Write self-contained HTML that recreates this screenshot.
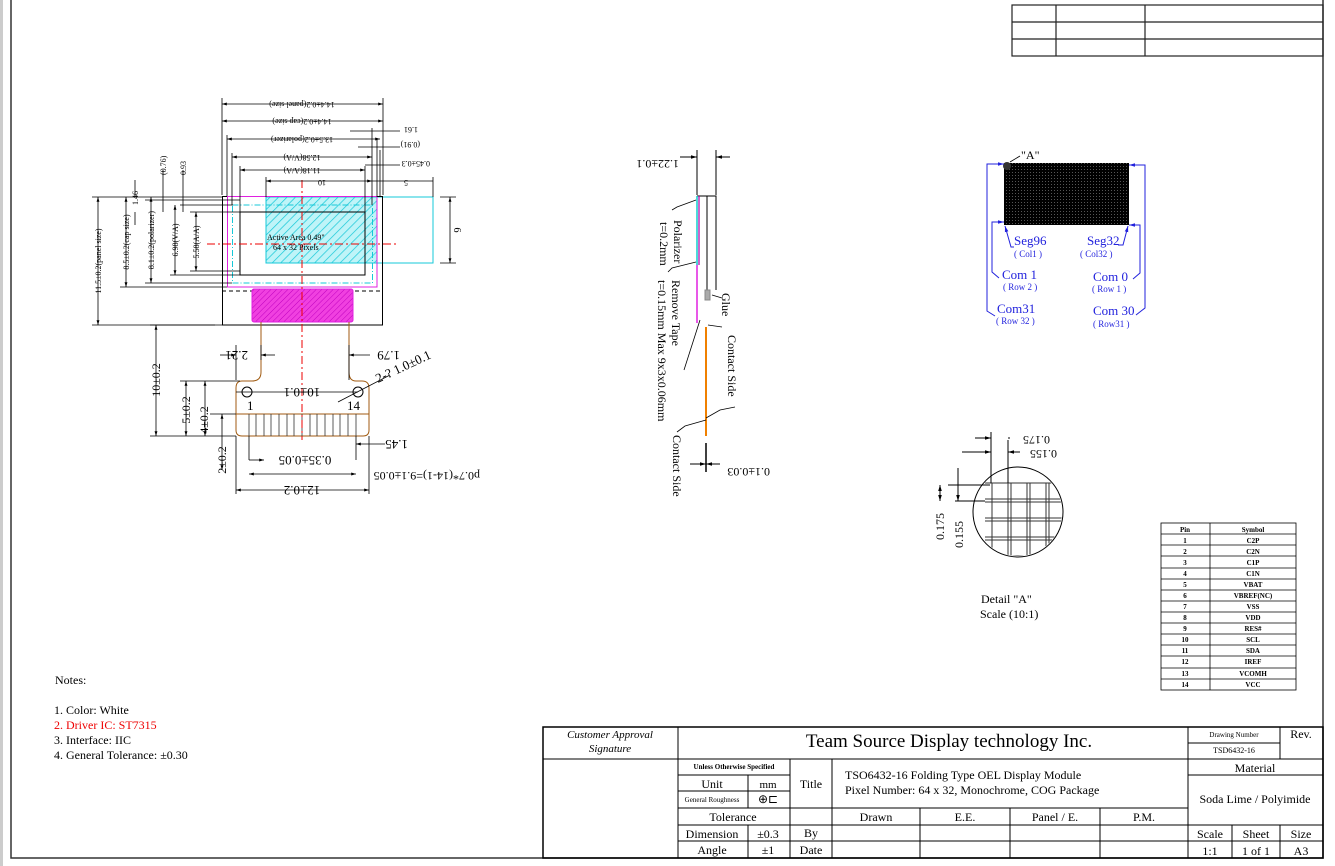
<!DOCTYPE html>
<html><head><meta charset="utf-8"><style>
html,body{margin:0;padding:0;background:#fff}
svg{display:block}
text{font-family:"Liberation Serif",serif;fill:#000}
</style></head><body>
<svg width="1335" height="866" viewBox="0 0 1335 866" xmlns="http://www.w3.org/2000/svg">
<defs>
<pattern id="hc" width="6" height="6" patternUnits="userSpaceOnUse" patternTransform="rotate(45)"><rect width="6" height="6" fill="#bff4f8"/><line x1="0" y1="0" x2="0" y2="6" stroke="#16c8d8" stroke-width="1.4"/></pattern>
<pattern id="hm" width="4" height="4" patternUnits="userSpaceOnUse" patternTransform="rotate(45)"><rect width="4" height="4" fill="#f040e0"/><line x1="0" y1="0" x2="0" y2="4" stroke="#c000c0" stroke-width="1"/></pattern>
<pattern id="px" width="3" height="3" patternUnits="userSpaceOnUse"><rect width="3" height="3" fill="#000"/><rect x="1" y="1" width="1" height="1" fill="#555"/></pattern>
<marker id="a" viewBox="0 0 10 10" refX="10" refY="5" markerWidth="6" markerHeight="6" orient="auto-start-reverse"><path d="M0,2 L10,5 L0,8z" fill="#000"/></marker>
<marker id="b" viewBox="0 0 10 10" refX="10" refY="5" markerWidth="6" markerHeight="6" orient="auto-start-reverse"><path d="M0,2 L10,5 L0,8z" fill="#22d"/></marker>
</defs>
<rect x="0" y="0" width="3" height="866" fill="#ccc"/>
<g fill="none" stroke="#333" stroke-width="1.5">
<path d="M11,0 V858 H1323 V0"/>
</g>
<!-- top right table -->
<g stroke="#222" stroke-width="1.2" fill="none">
<rect x="1012" y="5" width="311" height="51"/>
<line x1="1012" y1="22" x2="1323" y2="22"/><line x1="1012" y1="39" x2="1323" y2="39"/>
<line x1="1056" y1="5" x2="1056" y2="56"/><line x1="1145" y1="5" x2="1145" y2="56"/>
</g>

<!-- MAIN FRONT VIEW -->
<g fill="none" stroke-width="1">
<rect x="266" y="197" width="111" height="66" fill="url(#hc)" stroke="#16c8d8"/>
<rect x="377" y="197" width="56" height="66" stroke="#16c8d8"/>
<rect x="222.5" y="196.5" width="160" height="128.5" stroke="#000"/>
<rect x="227.5" y="196.5" width="149.5" height="90.5" stroke="#e020e0"/>
<rect x="232.5" y="205" width="140" height="78" stroke="#16c8d8" stroke-dasharray="6,2,1,2"/>
<rect x="240" y="212" width="125" height="63" stroke="#000"/>
<line x1="222" y1="291" x2="383" y2="291" stroke="#000" stroke-dasharray="4,3"/>
<rect x="252" y="289" width="101" height="33" rx="2" fill="url(#hm)" stroke="#e020e0"/>
<path d="M261,322 V372 Q261,381 252,381 H242 Q236,381 236,388 V430 Q236,436 242,436 H363 Q369,436 369,430 V388 Q369,381 362,381 H356 Q349,381 349,372 V322" stroke="#a05a10"/>
<line x1="236" y1="414" x2="369" y2="414" stroke="#a05a10"/>
<circle cx="247" cy="392" r="5" stroke="#000"/><circle cx="358" cy="392" r="5" stroke="#000"/>
<g stroke="#333" stroke-width="0.8">
<path d="M249,414 V436 M256,414 V436 M264,414 V436 M271,414 V436 M279,414 V436 M287,414 V436 M294,414 V436 M302,414 V436 M310,414 V436 M317,414 V436 M325,414 V436 M333,414 V436 M340,414 V436 M348,414 V436 M356,414 V436"/>
</g>
<line x1="302" y1="180" x2="302" y2="440" stroke="#e00" stroke-dasharray="8,3,2,3"/>
<line x1="207" y1="244" x2="398" y2="244" stroke="#e00" stroke-dasharray="8,3,2,3"/>
</g>
<g stroke="#000" stroke-width="0.8" fill="none">
<line x1="222" y1="104" x2="383" y2="104" marker-start="url(#a)" marker-end="url(#a)"/>
<line x1="222" y1="121" x2="383" y2="121" marker-start="url(#a)" marker-end="url(#a)"/>
<line x1="227" y1="139" x2="380" y2="139" marker-start="url(#a)" marker-end="url(#a)"/>
<line x1="232" y1="157" x2="372" y2="157" marker-start="url(#a)" marker-end="url(#a)"/>
<line x1="240" y1="170" x2="365" y2="170" marker-start="url(#a)" marker-end="url(#a)"/>
<line x1="266" y1="181" x2="372" y2="181" marker-start="url(#a)" marker-end="url(#a)"/>
<line x1="372" y1="181" x2="433" y2="181"/>
<path d="M222,98 V195 M383,98 V195 M227,135 V196 M232,153 V205 M240,166 V212 M266,177 V197 M372,128 V205 M377,140 V197 M380,150 V197 M433,177 V197 M365,166 V212"/>
<line x1="350" y1="131" x2="400" y2="131"/><line x1="358" y1="147" x2="400" y2="147"/><line x1="365" y1="165" x2="400" y2="165"/>
<path d="M440,197 H456 M440,263 H456"/><line x1="450" y1="197" x2="450" y2="263" marker-start="url(#a)" marker-end="url(#a)"/>
<path d="M92,197 H222 M92,325 H215 M120,287 H227 M145,283 H232 M170,275 H240 M190,271 H240 M180,205 H233 M190,212 H240 M145,200 H240"/>
<line x1="98" y1="197" x2="98" y2="325" marker-start="url(#a)" marker-end="url(#a)"/>
<line x1="126" y1="197" x2="126" y2="287" marker-start="url(#a)" marker-end="url(#a)"/>
<line x1="151" y1="197" x2="151" y2="283" marker-start="url(#a)" marker-end="url(#a)"/>
<line x1="175" y1="205" x2="175" y2="275" marker-start="url(#a)" marker-end="url(#a)"/>
<line x1="196" y1="212" x2="196" y2="271" marker-start="url(#a)" marker-end="url(#a)"/>
<path d="M135,180 V197 M135,212 V225 M163,170 V212 M183,170 V212"/>
<path d="M150,325 H222 M150,436 H236 M180,381 H240 M195,381 H240 M210,414 H236 M236,436 V494 M369,436 V494 M249,436 V460 M356,436 V460 M236,345 V380 M349,345 V380 M261,345 V360"/>
<line x1="156" y1="325" x2="156" y2="436" marker-start="url(#a)" marker-end="url(#a)"/>
<line x1="186" y1="381" x2="186" y2="436" marker-start="url(#a)" marker-end="url(#a)"/>
<line x1="205" y1="381" x2="205" y2="436" marker-start="url(#a)" marker-end="url(#a)"/>
<line x1="222" y1="414" x2="222" y2="470" marker-start="url(#a)" marker-end="url(#a)"/>
<line x1="236" y1="490" x2="369" y2="490" marker-start="url(#a)" marker-end="url(#a)"/>
<line x1="249" y1="474" x2="356" y2="474" marker-start="url(#a)" marker-end="url(#a)"/>
<line x1="249" y1="460" x2="264" y2="460" marker-end="url(#a)"/>
<line x1="236" y1="392" x2="358" y2="392"/>
<line x1="220" y1="355" x2="236" y2="355" marker-end="url(#a)"/><line x1="275" y1="355" x2="261" y2="355" marker-end="url(#a)"/>
<line x1="370" y1="355" x2="349" y2="355" marker-end="url(#a)"/>
<line x1="385" y1="444" x2="356" y2="444" marker-end="url(#a)"/>
<line x1="390" y1="375" x2="338" y2="402"/>
</g>
<g font-size="8">
<text transform="translate(302,102) rotate(180)" text-anchor="middle">14.4±0.2(panel size)</text>
<text transform="translate(302,119) rotate(180)" text-anchor="middle">14.4±0.2(cap size)</text>
<text transform="translate(302,137) rotate(180)" text-anchor="middle">13.5±0.2(polarizer)</text>
<text transform="translate(302,155) rotate(180)" text-anchor="middle">12.58(V/A)</text>
<text transform="translate(302,168) rotate(180)" text-anchor="middle">11.18(A/A)</text>
<text transform="translate(322,180) rotate(180)" text-anchor="middle">10</text>
<text transform="translate(406,180) rotate(180)" text-anchor="middle">5</text>
<text transform="translate(418,127) rotate(180)">1.61</text>
<text transform="translate(420,142) rotate(180)">(0.91)</text>
<text transform="translate(430,161) rotate(180)">0.45±0.3</text>
<text transform="translate(454,230) rotate(90)" text-anchor="middle" font-size="10">6</text>
<text transform="translate(101,261) rotate(-90)" text-anchor="middle">11.5±0.2(panel size)</text>
<text transform="translate(129,242) rotate(-90)" text-anchor="middle">8.5±0.2(cap size)</text>
<text transform="translate(154,240) rotate(-90)" text-anchor="middle">8.1±0.2(polarizer)</text>
<text transform="translate(178,240) rotate(-90)" text-anchor="middle">6.98(V/A)</text>
<text transform="translate(199,242) rotate(-90)" text-anchor="middle">5.58(A/A)</text>
<text transform="translate(138,205) rotate(-90)">1.46</text>
<text transform="translate(166,175) rotate(-90)">(0.76)</text>
<text transform="translate(186,175) rotate(-90)">0.93</text>
<text x="267" y="240" fill="#1aa">Active Area 0.49"</text>
<text x="273" y="250" fill="#1aa">64 x 32 Pixels</text>
</g>
<g font-size="12">
<text transform="translate(160,380) rotate(-90)" text-anchor="middle">10±0.2</text>
<text transform="translate(190,410) rotate(-90)" text-anchor="middle">5±0.2</text>
<text transform="translate(208,420) rotate(-90)" text-anchor="middle">4±0.2</text>
<text transform="translate(226,460) rotate(-90)" text-anchor="middle">2±0.2</text>
<text transform="translate(302,388) rotate(180)" text-anchor="middle" font-size="13">10±0.1</text>
<text transform="translate(302,486) rotate(180)" text-anchor="middle" font-size="13">12±0.2</text>
<text transform="translate(305,456) rotate(180)" text-anchor="middle" font-size="13">0.35±0.05</text>
<text transform="translate(480,472) rotate(180)">p0.7*(14-1)=9.1±0.05</text>
<text transform="translate(248,351) rotate(180)" font-size="13">2.21</text>
<text transform="translate(400,351) rotate(180)" font-size="13">1.79</text>
<text transform="translate(408,440) rotate(180)" font-size="13">1.45</text>
<text transform="translate(378,383) rotate(-25)" font-size="13">2-? 1.0±0.1</text>
<text x="247" y="410" font-size="13">1</text><text x="347" y="410" font-size="13">14</text>
</g>

<!-- SIDE VIEW -->
<g fill="none" stroke-width="1">
<path d="M697,150 V195 M716,150 V195" stroke="#000"/>
<line x1="680" y1="157" x2="697" y2="157" stroke="#000" marker-end="url(#a)"/>
<line x1="730" y1="157" x2="716" y2="157" stroke="#000" marker-end="url(#a)"/>
<path d="M697,196 H716 V290 M707,196 V290 M697,196 V290" stroke="#000"/>
<line x1="697" y1="196" x2="697" y2="265" stroke="#1cc" stroke-width="1.5"/>
<line x1="699" y1="196" x2="699" y2="265" stroke="#a0a" stroke-width="1.2"/>
<path d="M697,265 V323" stroke="#e020e0" stroke-width="1.5"/>
<rect x="705" y="290" width="5" height="10" fill="#aaa" stroke="#888"/>
<line x1="706" y1="327" x2="706" y2="436" stroke="#f08000" stroke-width="2"/>
<line x1="706" y1="443" x2="706" y2="472" stroke="#000" stroke-width="1.5"/>
<line x1="690" y1="464" x2="706" y2="464" stroke="#000" marker-end="url(#a)"/>
<line x1="720" y1="464" x2="706" y2="464" stroke="#000" marker-end="url(#a)"/>
<path d="M672,210 L677,207 L696,200 M668,272 L672,268 L696,262 M684,370 L700,320 M722,298 L712,295 M722,327 L708,325 M735,407 L720,410 L706,418 M677,432 L685,426 L706,420" stroke="#000" stroke-width="0.8"/>
</g>
<g font-size="12">
<text transform="translate(679,160) rotate(180)">1.22±0.1</text>
<text transform="translate(770,468) rotate(180)">0.1±0.03</text>
<text transform="translate(674,220) rotate(90)">Polarizer</text>
<text transform="translate(660,222) rotate(90)">t=0.2mm</text>
<text transform="translate(672,280) rotate(90)">Remove Tape</text>
<text transform="translate(658,280) rotate(90)">t=0.15mm Max 9x3x0.06mm</text>
<text transform="translate(722,293) rotate(90)">Glue</text>
<text transform="translate(728,335) rotate(90)">Contact Side</text>
<text transform="translate(673,435) rotate(90)">Contact Side</text>
</g>

<!-- PIXEL VIEW -->
<rect x="1004" y="163" width="125" height="62" fill="url(#px)"/>
<circle cx="1007" cy="166" r="4" fill="#333"/>
<path d="M1010,162 L1020,156" stroke="#000" stroke-width="0.8"/>
<text x="1021" y="159" font-size="12">"A"</text>
<g fill="none" stroke="#22d" stroke-width="1">
<path d="M1004,164 H987 V311 L995,316" marker-start="url(#b)"/>
<path d="M1004,222 H992 V272 L999,278" marker-start="url(#b)"/>
<path d="M1005,226 L1011,247 H1014" marker-start="url(#b)"/>
<path d="M1129,165 H1145 V308 L1136,315" marker-start="url(#b)"/>
<path d="M1129,225 H1140 V273 L1133,279" marker-start="url(#b)"/>
<path d="M1128,226 L1123,245 H1118" marker-start="url(#b)"/>
</g>
<g fill="#22d" font-size="13">
<text x="1014" y="245" style="fill:#22d">Seg96</text><text x="1014" y="257" font-size="9" style="fill:#22d">( Col1 )</text>
<text x="1087" y="245" style="fill:#22d">Seg32</text><text x="1080" y="257" font-size="9" style="fill:#22d">( Col32 )</text>
<text x="1002" y="279" style="fill:#22d">Com 1</text><text x="1003" y="290" font-size="9" style="fill:#22d">( Row 2 )</text>
<text x="1093" y="281" style="fill:#22d">Com 0</text><text x="1092" y="292" font-size="9" style="fill:#22d">( Row 1 )</text>
<text x="997" y="313" style="fill:#22d">Com31</text><text x="996" y="324" font-size="9" style="fill:#22d">( Row 32 )</text>
<text x="1093" y="315" style="fill:#22d">Com 30</text><text x="1093" y="327" font-size="9" style="fill:#22d">( Row31 )</text>
</g>

<!-- DETAIL A -->
<g fill="none" stroke="#000" stroke-width="1">
<circle cx="1018" cy="512" r="45"/>
<clipPath id="cc"><circle cx="1018" cy="512" r="44"/></clipPath>
<g clip-path="url(#cc)" stroke="#333">
<path d="M992,483 V560 M1008,483 V560 M1011,483 V560 M1027,483 V560 M1030,483 V560 M1046,483 V560 M1049,483 V560"/>
<path d="M985,483 H1065 M985,499 H1065 M985,502 H1065 M985,518 H1065 M985,521 H1065 M985,537 H1065 M985,540 H1065 M985,556 H1065"/>
</g>
<path d="M991,432 V483 M1008,440 V483 M948,485 H990 M955,501 H985"/>
<line x1="975" y1="438" x2="991" y2="438" marker-end="url(#a)"/><line x1="1010" y1="438" x2="1008" y2="438"/>
<line x1="962" y1="452" x2="991" y2="452" marker-end="url(#a)"/><line x1="1020" y1="452" x2="1008" y2="452" marker-end="url(#a)"/>
<line x1="940" y1="485" x2="940" y2="501" marker-start="url(#a)" marker-end="url(#a)"/>
<line x1="958" y1="468" x2="958" y2="501" marker-end="url(#a)"/>
</g>
<g font-size="12">
<text transform="translate(1050,436) rotate(180)">0.175</text>
<text transform="translate(1057,450) rotate(180)">0.155</text>
<text transform="translate(944,540) rotate(-90)">0.175</text>
<text transform="translate(963,548) rotate(-90)">0.155</text>
<text x="981" y="603">Detail "A"</text>
<text x="980" y="618">Scale (10:1)</text>
</g>

<!-- PIN TABLE -->
<g stroke="#000" stroke-width="0.8" fill="none">
<rect x="1161" y="523" width="135" height="167"/>
<line x1="1210" y1="523" x2="1210" y2="690"/>
<path d="M1161,534 H1296 M1161,545 H1296 M1161,556 H1296 M1161,568 H1296 M1161,579 H1296 M1161,590 H1296 M1161,601 H1296 M1161,612 H1296 M1161,623 H1296 M1161,634 H1296 M1161,645 H1296 M1161,656 H1296 M1161,668 H1296 M1161,679 H1296"/>
</g>
<g font-size="7" text-anchor="middle" font-weight="bold">
<text x="1185" y="532">Pin</text><text x="1253" y="532">Symbol</text>
<text x="1185" y="543">1</text><text x="1253" y="543">C2P</text>
<text x="1185" y="554">2</text><text x="1253" y="554">C2N</text>
<text x="1185" y="565">3</text><text x="1253" y="565">C1P</text>
<text x="1185" y="576">4</text><text x="1253" y="576">C1N</text>
<text x="1185" y="587">5</text><text x="1253" y="587">VBAT</text>
<text x="1185" y="598">6</text><text x="1253" y="598">VBREF(NC)</text>
<text x="1185" y="609">7</text><text x="1253" y="609">VSS</text>
<text x="1185" y="620">8</text><text x="1253" y="620">VDD</text>
<text x="1185" y="631">9</text><text x="1253" y="631">RES#</text>
<text x="1185" y="642">10</text><text x="1253" y="642">SCL</text>
<text x="1185" y="653">11</text><text x="1253" y="653">SDA</text>
<text x="1185" y="664">12</text><text x="1253" y="664">IREF</text>
<text x="1185" y="676">13</text><text x="1253" y="676">VCOMH</text>
<text x="1185" y="687">14</text><text x="1253" y="687">VCC</text>
</g>

<!-- NOTES -->
<g font-size="12">
<text x="55" y="684">Notes:</text>
<text x="54" y="714">1. Color: White</text>
<text x="54" y="729" style="fill:#e00">2. Driver IC: ST7315</text>
<text x="54" y="744">3. Interface: IIC</text>
<text x="54" y="759">4. General Tolerance: ±0.30</text>
</g>

<!-- TITLE BLOCK -->
<g stroke="#000" stroke-width="1" fill="none">
<rect x="543" y="727" width="780" height="131" stroke-width="1.5"/>
<path d="M678,727 V858 M543,759 H1323 M1188,727 V858 M1280,727 V759 M1188,743 H1280 M1188,775 H1323 M1188,825 H1323 M1188,841 H1323 M1232,825 V858 M1280,825 V858"/>
<path d="M678,775 H790 M678,791 H790 M678,808 H1188 M678,825 H1188 M678,841 H1188 M790,759 V858 M832,759 V858 M748,775 V808 M748,825 V858"/>
<path d="M920,808 V858 M1010,808 V858 M1100,808 V858"/>
</g>
<g font-size="11" text-anchor="middle">
<text x="610" y="738" font-style="italic">Customer Approval</text>
<text x="610" y="752" font-style="italic">Signature</text>
<text x="949" y="747" font-size="19">Team Source Display technology  Inc.</text>
<text x="1234" y="737" font-size="7">Drawing Number</text>
<text x="1301" y="738" font-size="12">Rev.</text>
<text x="1234" y="753" font-size="8">TSD6432-16</text>
<text x="734" y="769" font-size="7" font-weight="bold">Unless Otherwise Specified</text>
<text x="712" y="788" font-size="12">Unit</text><text x="768" y="788">mm</text>
<text x="712" y="802" font-size="7">General Roughness</text><text x="768" y="803" font-size="12">⊕⊏</text>
<text x="733" y="821" font-size="12">Tolerance</text>
<text x="712" y="838" font-size="12">Dimension</text><text x="768" y="838" font-size="12">±0.3</text>
<text x="712" y="854" font-size="12">Angle</text><text x="768" y="854" font-size="12">±1</text>
<text x="811" y="788" font-size="12">Title</text>
<text x="811" y="837" font-size="12">By</text>
<text x="811" y="854" font-size="12">Date</text>
<text x="876" y="821" font-size="12">Drawn</text>
<text x="965" y="821" font-size="12">E.E.</text>
<text x="1055" y="821" font-size="12">Panel / E.</text>
<text x="1144" y="821" font-size="12">P.M.</text>
<text x="1255" y="772" font-size="12">Material</text>
<text x="1255" y="803" font-size="12">Soda Lime / Polyimide</text>
<text x="1210" y="838" font-size="12">Scale</text><text x="1256" y="838" font-size="12">Sheet</text><text x="1301" y="838" font-size="12">Size</text>
<text x="1210" y="855" font-size="12">1:1</text><text x="1256" y="855" font-size="12">1 of 1</text><text x="1301" y="855" font-size="12">A3</text>
</g>
<g font-size="12">
<text x="845" y="779">TSO6432-16 Folding Type OEL Display Module</text>
<text x="845" y="794">Pixel Number: 64 x 32, Monochrome, COG Package</text>
</g>
</svg>
</body></html>
